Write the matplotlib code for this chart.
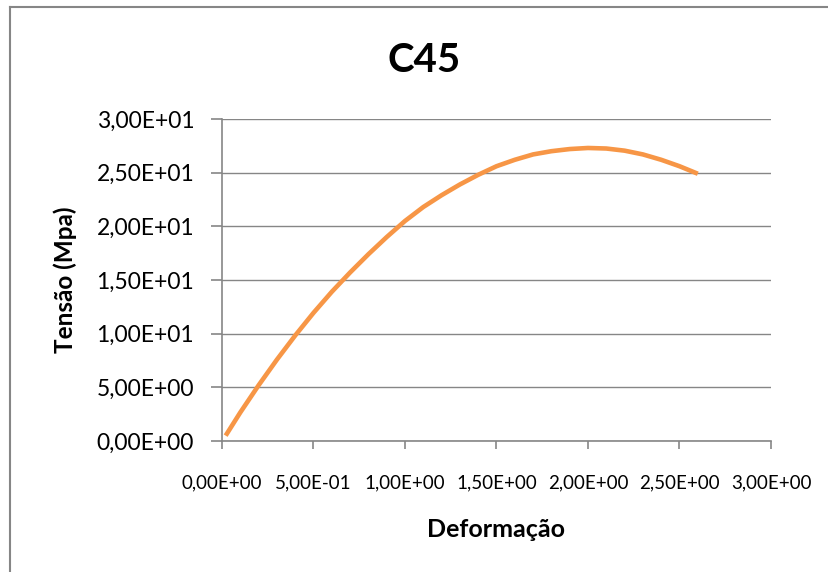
import matplotlib
matplotlib.use("Agg")
import matplotlib.pyplot as plt
from matplotlib.lines import Line2D
from matplotlib.ticker import FixedLocator

deformacao = [0.02, 0.1, 0.2, 0.3, 0.4, 0.5, 0.6, 0.7, 0.8, 0.9, 1.0, 1.1, 1.2, 1.3,
              1.4, 1.5, 1.6, 1.7, 1.8, 1.9, 2.0, 2.1, 2.2, 2.3, 2.4, 2.5, 2.6]
tensao = [0.5, 2.66, 5.19, 7.58, 9.83, 11.94, 13.9, 15.7, 17.4, 19.0, 20.5, 21.8,
          22.9, 23.9, 24.8, 25.6, 26.2, 26.7, 27.0, 27.2, 27.3, 27.25, 27.05, 26.7,
          26.2, 25.6, 24.9]
x_ticks = [0.0, 0.5, 1.0, 1.5, 2.0, 2.5, 3.0]
x_labels = ["0,00E+00", "5,00E-01", "1,00E+00", "1,50E+00", "2,00E+00", "2,50E+00", "3,00E+00"]
y_ticks = [0, 5, 10, 15, 20, 25, 30]
y_labels = ["0,00E+00", "5,00E+00", "1,00E+01", "1,50E+01", "2,00E+01", "2,50E+01", "3,00E+01"]

plt.rcParams['font.family'] = ['Lato', 'DejaVu Sans']

W, H = 829, 572
fig = plt.figure(figsize=(W / 100, H / 100), dpi=100)
fig.patch.set_facecolor('white')

# chart border
fig.add_artist(Line2D([10 / W, 1.0], [1 - 7 / H, 1 - 7 / H], color='#868686', lw=1.5))
fig.add_artist(Line2D([10 / W, 10 / W], [0.0, 1 - 7 / H], color='#868686', lw=1.5))

left, right = 222 / W, 771 / W
bottom, top = 1 - 441 / H, 1 - 119 / H
ax = fig.add_axes([left, bottom, right - left, top - bottom])

ax.plot(deformacao, tensao, color='#F79646', lw=3.3, solid_capstyle='butt', zorder=3)

ax.set_xlim(0, 3.0)
ax.set_ylim(0, 30)
ax.xaxis.set_major_locator(FixedLocator(x_ticks))
ax.yaxis.set_major_locator(FixedLocator(y_ticks))
ax.set_xticklabels(x_labels, fontsize=13.5)
ax.set_yticklabels(y_labels, fontsize=16.5)

ax.grid(axis='y', color='#868686', lw=1)
ax.set_axisbelow(True)
for s in ['top', 'right']:
    ax.spines[s].set_visible(False)
for s in ['left', 'bottom']:
    ax.spines[s].set_color('#868686')
    ax.spines[s].set_linewidth(1.2)
ax.tick_params(axis='x', direction='out', length=6, width=1.2, color='#868686', pad=18)
ax.tick_params(axis='y', direction='out', length=8, width=1.2, color='#868686', pad=12)

ax.set_xlabel("Deformação", fontsize=18, fontweight='bold', labelpad=19)
ax.set_ylabel("Tensão (Mpa)", fontsize=17.5, fontweight='bold', labelpad=14)

fig.text(424 / W, 1 - 60 / H, "C45", fontsize=29, fontweight='bold', ha='center', va='center')

fig.savefig("out.png", dpi=100, facecolor='white')
